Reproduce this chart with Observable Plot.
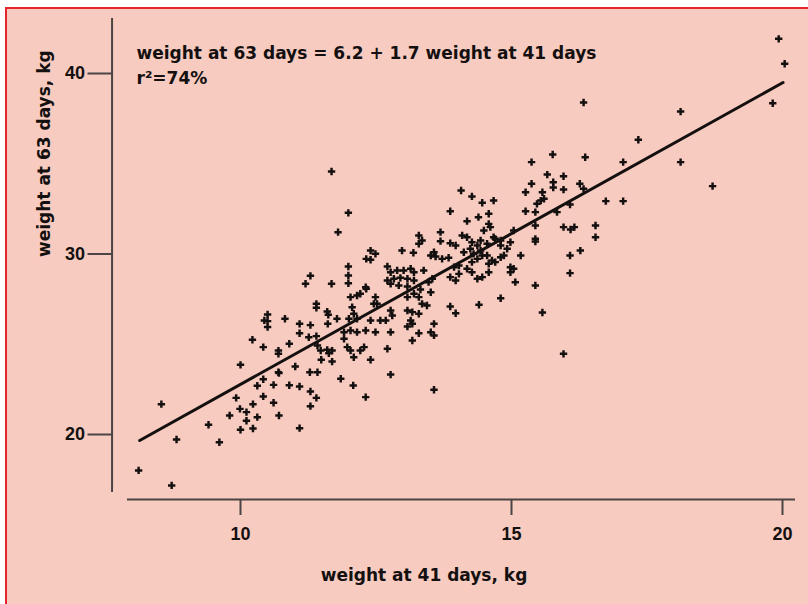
<!DOCTYPE html>
<html><head><meta charset="utf-8">
<script src="https://cdn.jsdelivr.net/npm/d3@7"></script>
<script src="https://cdn.jsdelivr.net/npm/@observablehq/plot@0.6"></script>
<style>
html,body{margin:0;padding:0;width:808px;height:604px;overflow:hidden;background:#fff}
#bg{position:absolute;left:5px;top:7px;width:810px;height:610px;background:#f7cbbf;border-left:2px solid #e4262b;border-top:2px solid #e4262b}
#chart{position:absolute;left:0;top:0}
</style></head><body>
<div id="bg"></div><div id="chart"></div>
<script>
// weight at 41 days (kg)
const x41 = [
8.12,8.54,8.73,8.82,9.41,9.61,9.92,9.80,9.99,10.11,10.23,10.31,10.42,10.42,10.11,10.31,10.00,10.23,10.61,10.71,
10.61,10.71,10.90,11.09,11.09,11.40,11.40,11.60,11.62,10.50,10.44,10.50,10.50,10.82,11.09,11.29,11.61,11.78,11.09,11.26,
11.40,10.22,10.90,10.42,10.70,10.70,11.42,11.48,11.60,11.69,11.63,11.49,11.69,10.00,11.01,10.70,11.28,11.42,11.85,11.29,
11.40,11.29,11.99,11.80,11.68,11.29,11.20,11.68,11.99,11.99,11.99,12.40,12.49,12.32,12.40,12.98,13.19,13.29,13.29,12.32,
12.21,12.03,12.15,12.49,12.52,12.46,12.71,12.77,12.89,13.01,13.14,13.20,12.83,12.95,13.08,12.71,13.20,12.77,12.92,12.31,
13.20,13.29,13.51,13.44,13.35,13.17,13.29,13.08,13.87,13.97,14.40,12.77,12.80,12.68,12.06,12.09,12.00,12.15,12.40,12.58,
13.14,13.17,13.08,13.57,13.29,13.51,13.57,13.17,12.77,12.49,11.91,12.03,12.15,12.31,11.91,12.71,11.97,12.03,12.21,12.28,
12.09,12.40,12.77,12.08,12.31,13.57,14.07,14.27,14.46,14.67,15.47,15.54,15.60,13.87,15.26,14.58,14.39,14.18,14.58,14.61,
14.49,15.44,13.69,15.04,14.70,14.80,14.98,14.92,15.44,15.44,13.35,13.69,14.09,14.18,14.27,14.37,14.24,14.43,14.12,13.87,
13.97,13.57,13.51,13.60,13.72,13.84,14.55,14.64,14.58,14.70,14.80,14.86,15.17,14.18,14.27,14.37,14.46,14.58,14.98,15.04,
14.98,15.07,15.44,14.80,13.08,13.38,13.54,13.47,13.32,13.08,13.87,13.97,14.03,14.27,14.37,14.46,13.94,14.03,14.30,16.08,
16.08,16.27,15.57,15.96,17.34,15.76,16.36,17.06,15.37,15.66,15.96,15.77,15.77,15.37,16.26,16.33,15.96,15.26,15.57,16.74,
17.06,16.08,15.44,15.84,15.96,16.09,16.16,16.55,16.55,14.67,14.80,14.43,14.55,18.12,18.12,18.71,19.93,20.04,19.82,16.33
];
// weight at 63 days (kg)
const y63 = [
18.01,21.68,17.18,19.72,20.54,19.57,22.03,21.05,21.42,21.24,21.68,22.70,23.06,22.11,20.76,20.96,20.26,20.33,22.75,23.40,
21.76,21.05,22.73,22.66,20.35,27.24,27.02,26.81,26.63,26.65,26.32,26.28,25.95,26.41,26.13,26.06,26.13,26.41,25.61,25.39,
25.45,25.25,25.03,24.84,24.65,24.47,24.93,24.65,24.69,24.65,24.50,24.14,24.04,23.86,23.77,23.45,23.45,23.45,23.09,22.38,
22.03,21.57,32.28,31.21,34.57,28.79,28.35,28.35,29.31,28.81,28.38,30.19,30.01,29.73,29.68,30.19,30.07,31.03,30.57,28.07,
27.80,27.61,27.70,27.61,27.24,27.24,29.31,28.99,29.09,29.09,29.18,28.99,28.63,28.68,28.63,28.53,28.53,28.35,28.26,28.16,
27.80,27.61,27.88,27.15,27.24,26.78,26.69,26.87,27.09,26.72,27.19,26.87,26.59,26.32,27.05,26.69,26.41,26.41,26.32,26.32,
26.32,26.13,25.98,26.13,25.61,25.67,25.49,25.21,25.67,25.67,25.67,25.76,25.67,25.76,25.30,24.75,24.84,24.65,24.65,24.84,
24.28,24.14,23.32,22.72,22.07,22.48,33.52,33.19,32.84,32.96,32.78,32.96,33.06,32.37,32.37,32.23,32.04,31.82,31.67,31.49,
31.30,31.58,31.21,31.30,30.84,30.75,30.65,30.29,30.84,30.69,30.75,30.71,31.03,30.93,30.65,30.47,30.29,30.19,30.10,30.60,
30.47,30.10,29.92,29.86,29.73,29.79,29.92,29.64,29.46,29.55,29.82,29.92,29.92,29.18,28.99,28.63,28.72,28.99,29.27,29.18,
28.99,28.44,28.26,27.55,28.20,29.09,28.63,28.44,28.03,27.61,28.72,28.53,28.90,29.55,29.73,29.92,29.27,29.36,30.01,29.92,
28.94,30.19,26.76,24.47,36.33,35.51,35.36,35.09,35.09,34.40,34.31,33.98,33.68,33.89,33.89,33.61,33.57,33.42,33.42,32.93,
32.93,32.74,32.32,32.32,31.49,31.36,31.49,31.58,30.93,30.93,30.47,30.75,30.57,37.89,35.09,33.76,41.92,40.54,38.35,38.39
];
// fitted line end points as drawn
const fitX = [8.14, 20.01];
const fitY = [19.67, 39.50];
const xTicks = [10, 15, 20];
const yTicks = [20, 30, 40];
const equationText = "weight at 63 days = 6.2 + 1.7 weight at 41 days";
const r2Text = "r²=74%";
const xLabel = "weight at 41 days, kg";
const yLabel = "weight at 63 days, kg";
// axis line placement (data units)
const yAxisAt = 7.63, yAxisSpan = [16.79, 43.05];
const xAxisAt = 16.40, xAxisSpan = [7.915, 20.24];

const points = x41.map((x, i) => ({x, y: y63[i]}));
const fit = fitX.map((x, i) => ({x, y: fitY[i]}));
const axisColor = "#4a4444";
const ink = "#141010";
const txtFont = "'DejaVu Sans', sans-serif";

const plot = Plot.plot({
  width: 808, height: 604,
  marginLeft: 111.5, marginRight: 13, marginTop: 18, marginBottom: 105,
  x: {domain: [8, 20], range: [131.6, 782]},
  y: {domain: [20, 40], range: [434, 73]},
  style: {background: "transparent", color: ink, fontFamily: "'Liberation Sans', Arial, sans-serif", fontWeight: "bold", overflow: "visible"},
  marks: [
    Plot.ruleX([yAxisAt], {y1: yAxisSpan[0], y2: yAxisSpan[1], stroke: axisColor, strokeWidth: 2}),
    Plot.ruleY([xAxisAt], {x1: xAxisSpan[0], x2: xAxisSpan[1], stroke: axisColor, strokeWidth: 2}),
    Plot.axisY(yTicks, {anchor: "left", tickSize: 24, tickPadding: 3, stroke: axisColor, strokeWidth: 2, fontSize: 18, label: null}),
    Plot.axisX(xTicks, {anchor: "bottom", tickSize: 16, tickPadding: 12, stroke: axisColor, strokeWidth: 2, fontSize: 18, label: null}),
    Plot.line(fit, {x: "x", y: "y", stroke: ink, strokeWidth: 3}),
    Plot.dot(points, {x: "x", y: "y", symbol: "cross", r: 3.1, fill: ink, stroke: null}),
    Plot.text([equationText + "\n" + r2Text], {text: d => d, frameAnchor: "top-left", dx: 24.5, dy: 23, textAnchor: "start", lineAnchor: "top", lineHeight: 1.47, fontFamily: txtFont, fontSize: 17, fontWeight: "bold", fill: ink}),
    Plot.text([xLabel], {text: d => d, frameAnchor: "bottom", dx: -29.75, dy: 81, lineAnchor: "bottom", fontFamily: txtFont, fontSize: 17, fontWeight: "bold", fill: ink}),
    Plot.text([yLabel], {text: d => d, frameAnchor: "left", rotate: -90, dx: -62.5, dy: -2, lineAnchor: "bottom", fontFamily: txtFont, fontSize: 17, fontWeight: "bold", fill: ink})
  ]
});
document.getElementById("chart").appendChild(plot);
</script>
</body></html>
